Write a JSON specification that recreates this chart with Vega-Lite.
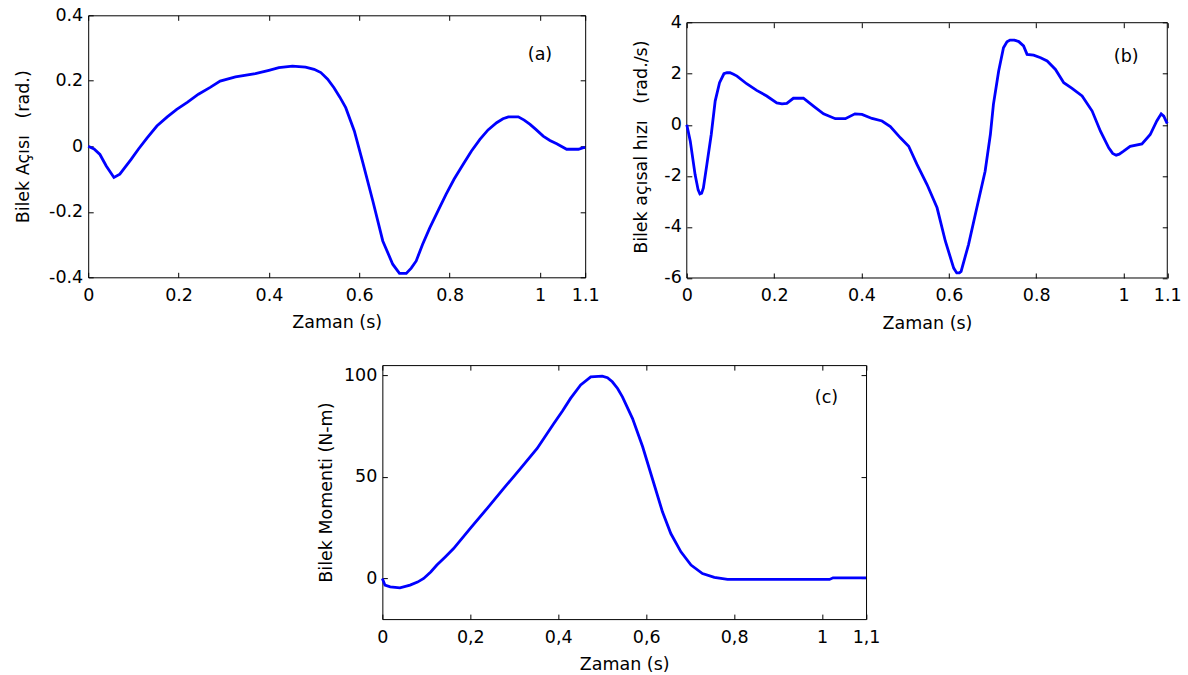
{
  "$schema": "https://vega.github.io/schema/vega-lite/v6.json",
  "background": "white",
  "padding": {"left": 12.7, "top": 5.3, "right": 5, "bottom": 5},
  "config": {
    "font": "DejaVu Sans",
    "view": {"stroke": "black", "strokeWidth": 1},
    "axis": {
      "labelFont": "DejaVu Sans", "labelFontSize": 17.5, "labelColor": "black",
      "titleFont": "DejaVu Sans", "titleFontSize": 17.5, "titleFontWeight": "normal", "titleColor": "black",
      "tickColor": "black", "tickSize": -5, "tickWidth": 1, "domain": false, "grid": false,
      "labelOverlap": false, "labelFlush": false
    }
  },
  "datasets": {
    "a": [
      {"t":0,"v":0},{"t":0.013,"v":-0.008},{"t":0.026,"v":-0.025},{"t":0.04,"v":-0.06},{"t":0.057,"v":-0.095},{"t":0.07,"v":-0.085},{"t":0.081,"v":-0.065},{"t":0.095,"v":-0.04},{"t":0.111,"v":-0.009},{"t":0.13,"v":0.025},{"t":0.152,"v":0.062},{"t":0.175,"v":0.09},{"t":0.196,"v":0.113},{"t":0.22,"v":0.135},{"t":0.244,"v":0.159},{"t":0.27,"v":0.18},{"t":0.292,"v":0.199},{"t":0.326,"v":0.212},{"t":0.37,"v":0.222},{"t":0.4,"v":0.232},{"t":0.422,"v":0.24},{"t":0.452,"v":0.245},{"t":0.481,"v":0.242},{"t":0.5,"v":0.235},{"t":0.515,"v":0.225},{"t":0.53,"v":0.205},{"t":0.544,"v":0.179},{"t":0.557,"v":0.15},{"t":0.57,"v":0.118},{"t":0.589,"v":0.047},{"t":0.607,"v":-0.045},{"t":0.63,"v":-0.167},{"t":0.652,"v":-0.289},{"t":0.674,"v":-0.36},{"t":0.689,"v":-0.388},{"t":0.704,"v":-0.388},{"t":0.715,"v":-0.372},{"t":0.726,"v":-0.35},{"t":0.74,"v":-0.3},{"t":0.756,"v":-0.249},{"t":0.775,"v":-0.195},{"t":0.792,"v":-0.147},{"t":0.81,"v":-0.1},{"t":0.83,"v":-0.055},{"t":0.848,"v":-0.015},{"t":0.867,"v":0.021},{"t":0.885,"v":0.05},{"t":0.904,"v":0.072},{"t":0.918,"v":0.084},{"t":0.93,"v":0.09},{"t":0.952,"v":0.09},{"t":0.965,"v":0.08},{"t":0.978,"v":0.067},{"t":0.992,"v":0.05},{"t":1.007,"v":0.031},{"t":1.022,"v":0.018},{"t":1.037,"v":0.008},{"t":1.059,"v":-0.009},{"t":1.085,"v":-0.009},{"t":1.096,"v":-0.004},{"t":1.1,"v":-0.004}
    ],
    "b": [
      {"t":0,"v":0},{"t":0.008,"v":-0.64},{"t":0.019,"v":-1.95},{"t":0.026,"v":-2.55},{"t":0.03,"v":-2.71},{"t":0.034,"v":-2.68},{"t":0.038,"v":-2.47},{"t":0.046,"v":-1.55},{"t":0.056,"v":-0.38},{"t":0.065,"v":0.93},{"t":0.075,"v":1.65},{"t":0.085,"v":2.0},{"t":0.092,"v":2.04},{"t":0.099,"v":2.04},{"t":0.107,"v":1.98},{"t":0.115,"v":1.91},{"t":0.137,"v":1.61},{"t":0.16,"v":1.35},{"t":0.183,"v":1.13},{"t":0.206,"v":0.86},{"t":0.218,"v":0.82},{"t":0.229,"v":0.84},{"t":0.244,"v":1.04},{"t":0.267,"v":1.04},{"t":0.29,"v":0.73},{"t":0.313,"v":0.43},{"t":0.34,"v":0.24},{"t":0.363,"v":0.24},{"t":0.385,"v":0.43},{"t":0.401,"v":0.41},{"t":0.424,"v":0.25},{"t":0.447,"v":0.15},{"t":0.466,"v":-0.07},{"t":0.489,"v":-0.51},{"t":0.508,"v":-0.84},{"t":0.527,"v":-1.55},{"t":0.55,"v":-2.34},{"t":0.573,"v":-3.25},{"t":0.592,"v":-4.56},{"t":0.611,"v":-5.61},{"t":0.618,"v":-5.8},{"t":0.624,"v":-5.8},{"t":0.628,"v":-5.74},{"t":0.645,"v":-4.69},{"t":0.664,"v":-3.25},{"t":0.683,"v":-1.82},{"t":0.695,"v":-0.38},{"t":0.702,"v":0.8},{"t":0.714,"v":2.11},{"t":0.725,"v":3.02},{"t":0.733,"v":3.25},{"t":0.74,"v":3.32},{"t":0.75,"v":3.32},{"t":0.76,"v":3.26},{"t":0.771,"v":3.09},{"t":0.779,"v":2.76},{"t":0.794,"v":2.73},{"t":0.81,"v":2.63},{"t":0.825,"v":2.5},{"t":0.844,"v":2.17},{"t":0.863,"v":1.65},{"t":0.882,"v":1.43},{"t":0.905,"v":1.13},{"t":0.928,"v":0.54},{"t":0.947,"v":-0.25},{"t":0.966,"v":-0.9},{"t":0.975,"v":-1.12},{"t":0.983,"v":-1.19},{"t":0.99,"v":-1.15},{"t":1.0,"v":-1.03},{"t":1.015,"v":-0.84},{"t":1.042,"v":-0.75},{"t":1.061,"v":-0.38},{"t":1.076,"v":0.15},{"t":1.086,"v":0.43},{"t":1.092,"v":0.34},{"t":1.099,"v":0.08},{"t":1.1,"v":0.05}
    ],
    "c": [
      {"t":0,"v":0},{"t":0.006,"v":-3.3},{"t":0.018,"v":-4.1},{"t":0.04,"v":-4.6},{"t":0.063,"v":-3.3},{"t":0.08,"v":-1.8},{"t":0.094,"v":0},{"t":0.11,"v":3.2},{"t":0.124,"v":6.6},{"t":0.143,"v":10.6},{"t":0.162,"v":14.7},{"t":0.2,"v":24.6},{"t":0.238,"v":34.4},{"t":0.276,"v":44.3},{"t":0.314,"v":54.1},{"t":0.352,"v":64.0},{"t":0.39,"v":76.3},{"t":0.41,"v":82.5},{"t":0.428,"v":88.6},{"t":0.451,"v":95.2},{"t":0.474,"v":99.2},{"t":0.5,"v":99.6},{"t":0.512,"v":98.8},{"t":0.523,"v":96.8},{"t":0.535,"v":93.5},{"t":0.546,"v":89.4},{"t":0.569,"v":78.7},{"t":0.592,"v":64.8},{"t":0.614,"v":49.2},{"t":0.637,"v":32.8},{"t":0.656,"v":22.1},{"t":0.679,"v":13.1},{"t":0.702,"v":6.6},{"t":0.728,"v":2.4},{"t":0.755,"v":0.5},{"t":0.785,"v":-0.5},{"t":0.907,"v":-0.5},{"t":1.017,"v":-0.5},{"t":1.025,"v":0.3},{"t":1.1,"v":0.3}
    ]
  },
  "center": true,
  "bounds": "full",
  "spacing": 31.8,
  "vconcat": [
    {
      "spacing": 31.6,
      "bounds": "full",
      "hconcat": [
        {
          "width": 497, "height": 262,
          "data": {"name": "a"},
          "layer": [
            {
              "mark": {"type": "line", "color": "#0000ff", "strokeWidth": 2.8},
              "encoding": {
                "x": {"field": "t", "type": "quantitative", "scale": {"domain": [0, 1.1], "nice": false},
                  "axis": {"orient": "bottom", "values": [0, 0.2, 0.4, 0.6, 0.8, 1, 1.1], "labelExpr": "toString(datum.value)", "labelPadding": 14, "title": "Zaman (s)", "titleY": 50.5, "titleBaseline": "alphabetic"}},
                "y": {"field": "v", "type": "quantitative", "scale": {"domain": [-0.4, 0.4], "nice": false, "zero": false},
                  "axis": {"orient": "left", "values": [-0.4, -0.2, 0, 0.2, 0.4], "labelExpr": "toString(datum.value)", "labelPadding": 10.5, "title": "Bilek Açısı\u00a0\u00a0\u00a0(rad.)", "titleX": -60, "titleBaseline": "alphabetic"}}
              }
            },
            {
              "mark": {"type": "line", "opacity": 0},
              "encoding": {
                "x": {"field": "t", "type": "quantitative", "axis": {"orient": "top", "values": [0, 0.2, 0.4, 0.6, 0.8, 1, 1.1], "labels": false, "title": null}},
                "y": {"field": "v", "type": "quantitative", "axis": {"orient": "right", "values": [-0.4, -0.2, 0, 0.2, 0.4], "labels": false, "title": null}}
              }
            },
            {
              "data": {"values": [{}]},
              "mark": {"type": "text", "text": "(a)", "font": "DejaVu Sans", "fontSize": 17.5, "color": "black"},
              "encoding": {
                "x": {"datum": 1.0, "type": "quantitative", "axis": null},
                "y": {"datum": 0.28, "type": "quantitative", "axis": null}
              }
            }
          ],
          "resolve": {"axis": {"x": "independent", "y": "independent"}}
        },
        {
          "width": 480.5, "height": 262.7,
          "view": {"stroke": null},
          "data": {"name": "b"},
          "layer": [
            {
              "data": {"values": [{}]},
              "mark": {"type": "rect", "filled": false, "color": "black", "strokeWidth": 1},
              "encoding": {
                "x": {"datum": 0, "type": "quantitative", "axis": null},
                "x2": {"datum": 1.1},
                "y": {"datum": -6, "type": "quantitative", "axis": null},
                "y2": {"datum": 4}
              }
            },
            {
              "mark": {"type": "line", "color": "#0000ff", "strokeWidth": 2.8},
              "encoding": {
                "x": {"field": "t", "type": "quantitative", "scale": {"domain": [0, 1.1], "nice": false},
                  "axis": {"orient": "bottom", "values": [0, 0.2, 0.4, 0.6, 0.8, 1, 1.1], "labelExpr": "toString(datum.value)", "labelPadding": 14, "title": "Zaman (s)", "titleY": 50.5, "titleBaseline": "alphabetic"}},
                "y": {"field": "v", "type": "quantitative", "scale": {"domain": [-6, 4.29], "nice": false, "zero": false},
                  "axis": {"orient": "left", "values": [-6, -4, -2, 0, 2, 4], "labelExpr": "toString(datum.value)", "labelPadding": 10.5, "title": "Bilek açısal hızı\u00a0\u00a0\u00a0(rad./s)", "titleX": -40, "titleBaseline": "alphabetic"}}
              }
            },
            {
              "mark": {"type": "line", "opacity": 0},
              "encoding": {
                "x": {"field": "t", "type": "quantitative", "axis": {"orient": "top", "offset": -7.4, "values": [0, 0.2, 0.4, 0.6, 0.8, 1, 1.1], "labels": false, "title": null}},
                "y": {"field": "v", "type": "quantitative", "axis": {"orient": "right", "values": [-6, -4, -2, 0, 2, 4], "labels": false, "title": null}}
              }
            },
            {
              "data": {"values": [{}]},
              "mark": {"type": "text", "text": "(b)", "font": "DejaVu Sans", "fontSize": 17.5, "color": "black"},
              "encoding": {
                "x": {"datum": 1.006, "type": "quantitative", "axis": null},
                "y": {"datum": 2.65, "type": "quantitative", "axis": null}
              }
            }
          ],
          "resolve": {"axis": {"x": "independent", "y": "independent"}}
        }
      ]
    },
    {
      "width": 483.7, "height": 254,
      "data": {"name": "c"},
      "layer": [
        {
          "mark": {"type": "line", "color": "#0000ff", "strokeWidth": 2.8},
          "encoding": {
            "x": {"field": "t", "type": "quantitative", "scale": {"domain": [0, 1.1], "nice": false},
              "axis": {"orient": "bottom", "values": [0, 0.2, 0.4, 0.6, 0.8, 1, 1.1], "labelExpr": "replace(toString(datum.value), '.', ',')", "labelPadding": 14, "title": "Zaman (s)", "titleY": 50.5, "titleBaseline": "alphabetic"}},
            "y": {"field": "v", "type": "quantitative", "scale": {"domain": [-20, 105], "nice": false, "zero": false},
              "axis": {"orient": "left", "values": [0, 50, 100], "labelExpr": "toString(datum.value)", "labelPadding": 10.5, "title": "Bilek Momenti (N-m)", "titleX": -50.6, "titleBaseline": "alphabetic"}}
          }
        },
        {
          "mark": {"type": "line", "opacity": 0},
          "encoding": {
            "x": {"field": "t", "type": "quantitative", "axis": {"orient": "top", "values": [0, 0.2, 0.4, 0.6, 0.8, 1, 1.1], "labels": false, "title": null}},
            "y": {"field": "v", "type": "quantitative", "axis": {"orient": "right", "values": [0, 50, 100], "labels": false, "title": ".", "titleOpacity": 0, "titleAngle": 0, "titleAlign": "right", "titleBaseline": "middle", "titleX": 20.5}}
          }
        },
        {
          "data": {"values": [{}]},
          "mark": {"type": "text", "text": "(c)", "font": "DejaVu Sans", "fontSize": 17.5, "color": "black"},
          "encoding": {
            "x": {"datum": 1.01, "type": "quantitative", "axis": null},
            "y": {"datum": 88.7, "type": "quantitative", "axis": null}
          }
        }
      ],
      "resolve": {"axis": {"x": "independent", "y": "independent"}}
    }
  ]
}
